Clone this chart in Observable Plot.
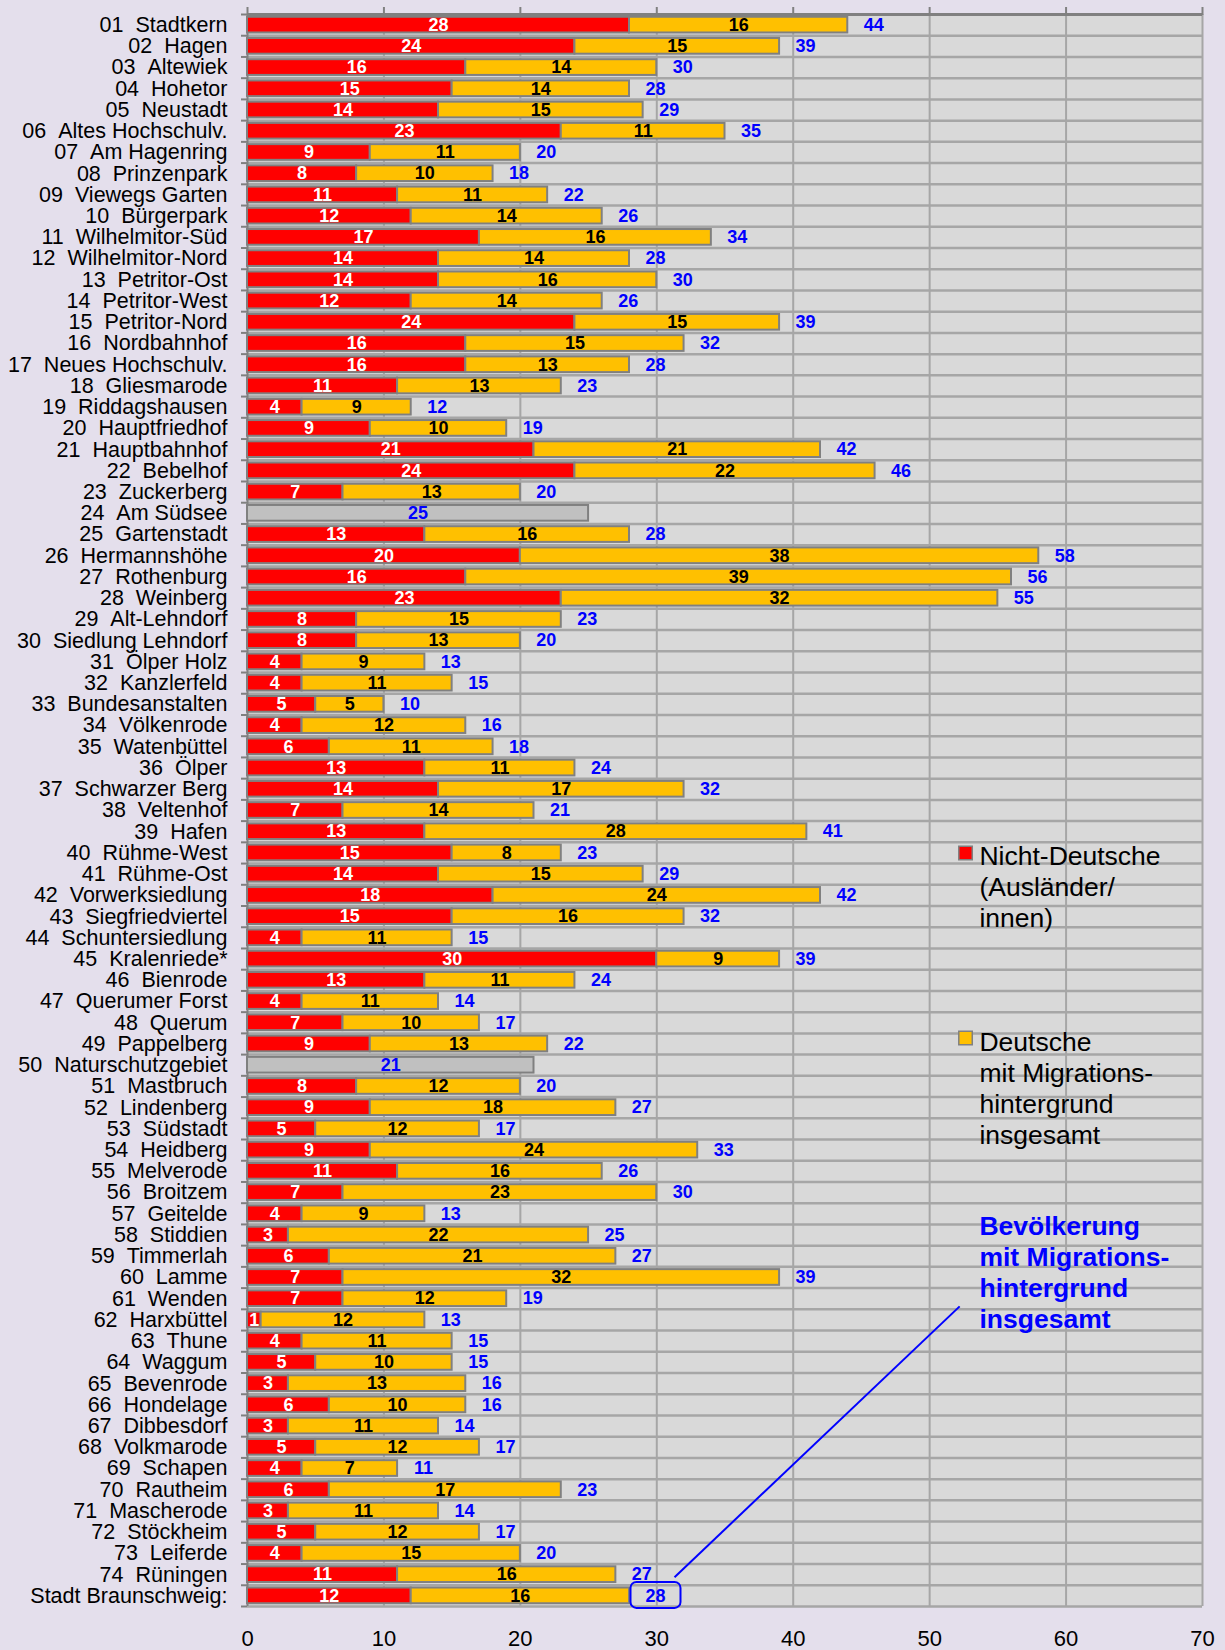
<!DOCTYPE html>
<html><head><meta charset="utf-8">
<script src="https://cdn.jsdelivr.net/npm/d3@7"></script>
<script src="https://cdn.jsdelivr.net/npm/@observablehq/plot@0.6"></script>
<style>
html,body{margin:0;padding:0;background:#e4dfec;}
#chart svg{display:block;}
</style></head><body><div id="chart"></div>
<script>
const districts = [
"01  Stadtkern","02  Hagen","03  Altewiek","04  Hohetor","05  Neustadt","06  Altes Hochschulv.",
"07  Am Hagenring","08  Prinzenpark","09  Viewegs Garten","10  Bürgerpark","11  Wilhelmitor-Süd",
"12  Wilhelmitor-Nord","13  Petritor-Ost","14  Petritor-West","15  Petritor-Nord","16  Nordbahnhof",
"17  Neues Hochschulv.","18  Gliesmarode","19  Riddagshausen","20  Hauptfriedhof","21  Hauptbahnhof",
"22  Bebelhof","23  Zuckerberg","24  Am Südsee","25  Gartenstadt","26  Hermannshöhe","27  Rothenburg",
"28  Weinberg","29  Alt-Lehndorf","30  Siedlung Lehndorf","31  Ölper Holz","32  Kanzlerfeld",
"33  Bundesanstalten","34  Völkenrode","35  Watenbüttel","36  Ölper","37  Schwarzer Berg","38  Veltenhof",
"39  Hafen","40  Rühme-West","41  Rühme-Ost","42  Vorwerksiedlung","43  Siegfriedviertel",
"44  Schuntersiedlung","45  Kralenriede*","46  Bienrode","47  Querumer Forst","48  Querum","49  Pappelberg",
"50  Naturschutzgebiet","51  Mastbruch","52  Lindenberg","53  Südstadt","54  Heidberg","55  Melverode",
"56  Broitzem","57  Geitelde","58  Stiddien","59  Timmerlah","60  Lamme","61  Wenden","62  Harxbüttel",
"63  Thune","64  Waggum","65  Bevenrode","66  Hondelage","67  Dibbesdorf","68  Volkmarode","69  Schapen",
"70  Rautheim","71  Mascherode","72  Stöckheim","73  Leiferde","74  Rüningen","Stadt Braunschweig:"
];
// Nicht-Deutsche (Ausländer/innen), % ; null = no breakdown shown
const nonGerman = [28,24,16,15,14,23,9,8,11,12,17,14,14,12,24,16,16,11,4,9,21,24,7,null,13,20,16,23,8,8,4,4,5,4,6,13,14,7,13,15,14,18,15,4,30,13,4,7,9,null,8,9,5,9,11,7,4,3,6,7,7,1,4,5,3,6,3,5,4,6,3,5,4,11,12];
// Deutsche mit Migrationshintergrund, %
const germanMigr = [16,15,14,14,15,11,11,10,11,14,16,14,16,14,15,15,13,13,9,10,21,22,13,null,16,38,39,32,15,13,9,11,5,12,11,11,17,14,28,8,15,24,16,11,9,11,11,10,13,null,12,18,12,24,16,23,9,22,21,32,12,12,11,10,13,10,11,12,7,17,11,12,15,16,16];
// Bevölkerung mit Migrationshintergrund insgesamt, %
const totals = [44,39,30,28,29,35,20,18,22,26,34,28,30,26,39,32,28,23,12,19,42,46,20,25,28,58,56,55,23,20,13,15,10,16,18,24,32,21,41,23,29,42,32,15,39,24,14,17,22,21,20,27,17,33,26,30,13,25,27,39,19,13,15,15,16,16,14,17,11,23,14,17,20,27,28];
const xTicks = [0,10,20,30,40,50,60,70];
const legendNames = ["Nicht-Deutsche\n(Ausländer/\ninnen)", "Deutsche\nmit Migrations-\nhintergrund\ninsgesamt"];
const annotationText = "Bevölkerung\nmit Migrations-\nhintergrund\ninsgesamt";

const RED = "#ff0000", YEL = "#ffc000", GRAY = "#c0c0c0", EDGE = "#808080", GRID = "#a6a6a6", BLUE = "#0000ff";
const FONT = "'Liberation Sans', Arial, sans-serif";
const n = districts.length;
const rows = districts.map((name, i) => ({i, name, red: nonGerman[i], yel: germanMigr[i], total: totals[i]}));
const split = rows.filter(d => d.red != null);
const grayRows = rows.filter(d => d.red == null);
const city = rows[n - 1];
const H = 0.37;

const legend = [
  {x: 52.63, y: 39.0, tx: 53.65, ty: 38.55, fill: RED, text: legendNames[0]},
  {x: 52.63, y: 47.72, tx: 53.65, ty: 47.27, fill: YEL, text: legendNames[1]}
];

const chart = Plot.plot({
  width: 1225, height: 1650,
  marginLeft: 247, marginRight: 23, marginTop: 14, marginBottom: 44,
  style: {background: "transparent", fontFamily: FONT, color: "#000", overflow: "visible"},
  x: {domain: [0, 70]},
  y: {domain: [-0.5, n - 0.5], reverse: true},
  marks: [
    Plot.frame({fill: "#d9d9d9", stroke: "none"}),
    Plot.ruleX(xTicks.slice(1), {stroke: GRID, strokeWidth: 2}),
    Plot.ruleY(d3.range(-0.5, n, 1), {stroke: GRID, strokeWidth: 2.5}),
    Plot.ruleY([-0.5], {stroke: EDGE, strokeWidth: 3}),
    Plot.ruleX([0], {stroke: EDGE, strokeWidth: 2}),
    Plot.axisX({anchor: "top", ticks: xTicks, tickSize: 8, tickFormat: () => "", label: null, stroke: EDGE, strokeWidth: 2}),
    Plot.axisX({anchor: "bottom", ticks: xTicks, tickSize: 0, tickPadding: 24, fontSize: 22, label: null, tickFormat: d => String(d)}),
    Plot.axisY({ticks: d3.range(-0.5, n, 1), tickSize: 6, tickFormat: () => "", label: null, stroke: EDGE, strokeWidth: 2}),
    Plot.axisY({ticks: d3.range(n), tickSize: 0, tickPadding: 20, fontSize: 21.5, label: null,
      tickFormat: i => districts[i].replace(/  /g, " \u00a0")}),
    Plot.rect(split, {x1: 0, x2: "red", y1: d => d.i - H, y2: d => d.i + H, fill: RED, stroke: EDGE, strokeWidth: 2}),
    Plot.rect(split, {x1: "red", x2: "total", y1: d => d.i - H, y2: d => d.i + H, fill: YEL, stroke: EDGE, strokeWidth: 2}),
    Plot.rect(grayRows, {x1: 0, x2: "total", y1: d => d.i - H, y2: d => d.i + H, fill: GRAY, stroke: EDGE, strokeWidth: 2}),
    Plot.text(split, {x: d => d.red / 2, y: "i", text: "red", fill: "white", fontWeight: "bold", fontSize: 18}),
    Plot.text(split, {x: d => (d.red + d.total) / 2, y: "i", text: "yel", fill: "black", fontWeight: "bold", fontSize: 18}),
    Plot.text(split, {x: "total", y: "i", dx: 26, text: "total", fill: BLUE, fontWeight: "bold", fontSize: 18}),
    Plot.text(grayRows, {x: d => d.total / 2, y: "i", text: "total", fill: BLUE, fontWeight: "bold", fontSize: 18}),
    Plot.rect([city], {x1: "total", x2: "total", y1: "i", y2: "i", insetLeft: 1.5, insetRight: -51.5, insetTop: -13.5, insetBottom: -12.5, rx: 6, fill: "none", stroke: BLUE, strokeWidth: 2}),
    Plot.link([{x1: 31.3, y1: 73.12, x2: 52.2, y2: 60.36}], {x1: "x1", y1: "y1", x2: "x2", y2: "y2", stroke: BLUE, strokeWidth: 2}),
    Plot.dot(legend, {x: "x", y: "y", symbol: "square", r: 7.6, fill: "fill", stroke: EDGE, strokeWidth: 1.5}),
    Plot.text(legend, {x: "tx", y: "ty", text: "text", textAnchor: "start", lineAnchor: "top", lineHeight: 1.17, fontSize: 26.5, fill: "black"}),
    Plot.text([annotationText], {x: 53.65, y: 55.95, text: d => d, textAnchor: "start", lineAnchor: "top", lineHeight: 1.17, fontSize: 26.5, fontWeight: "bold", fill: BLUE})
  ]
});
document.getElementById("chart").appendChild(chart);
</script></body></html>
